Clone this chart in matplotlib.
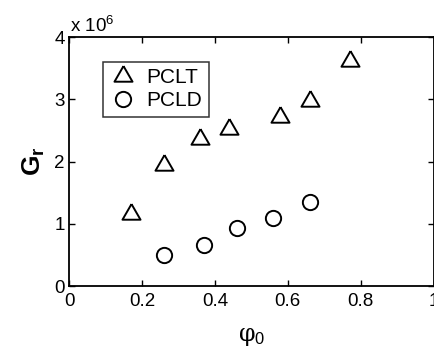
import matplotlib
matplotlib.use("Agg")
import matplotlib.pyplot as plt

plt.rcParams['font.family'] = ['Liberation Sans', 'DejaVu Sans']
plt.rcParams['mathtext.fontset'] = 'custom'
plt.rcParams['mathtext.rm'] = 'Liberation Sans'
plt.rcParams['mathtext.it'] = 'Liberation Sans'
plt.rcParams['mathtext.bf'] = 'Liberation Sans:bold'

pclt_x = [0.17, 0.26, 0.36, 0.44, 0.58, 0.66, 0.77]
pclt_y = [1.15e6, 1.95e6, 2.37e6, 2.53e6, 2.71e6, 2.97e6, 3.62e6]
pcld_x = [0.26, 0.37, 0.46, 0.56, 0.66]
pcld_y = [0.50e6, 0.66e6, 0.93e6, 1.09e6, 1.35e6]

xticks = [0, 0.2, 0.4, 0.6, 0.8, 1.0]
xticklabels = ['0', '0.2', '0.4', '0.6', '0.8', '1']
yticks = [0, 1e6, 2e6, 3e6, 4e6]
yticklabels = ['0', '1', '2', '3', '4']

tri = [(0, 0.577), (-0.5, -0.289), (0.5, -0.289), (0, 0.577)]

fig = plt.figure(figsize=(4.34, 3.54), dpi=100)
ax = fig.add_axes([0.159, 0.192, 0.84, 0.703])

ax.plot(pclt_x, pclt_y, linestyle='none', marker=tri, markersize=15,
        markerfacecolor='none', markeredgecolor='black', markeredgewidth=1.4, label='PCLT')
ax.plot(pcld_x, pcld_y, linestyle='none', marker='o', markersize=11,
        markerfacecolor='none', markeredgecolor='black', markeredgewidth=1.4, label='PCLD')

ax.set_xlim(0, 1)
ax.set_ylim(0, 4e6)
ax.set_xticks(xticks)
ax.set_xticklabels(xticklabels)
ax.set_yticks(yticks)
ax.set_yticklabels(yticklabels)
ax.tick_params(direction='in', length=4, width=1, labelsize=13.5, top=True, right=True)
ax.tick_params(axis='x', pad=5)
ax.tick_params(axis='y', pad=3)
for s in ax.spines.values():
    s.set_linewidth(1.3)

ax.text(0.003, 1.003, r'x 10$^6$', transform=ax.transAxes, fontsize=13.5, ha='left', va='bottom')

ax.set_xlabel('φ$_0$', fontsize=17, labelpad=11, family=['DejaVu Serif'])
ax.set_ylabel(r'G$_\mathbf{r}$', fontsize=19, fontweight='heavy', labelpad=5)

leg = ax.legend(loc='upper left', bbox_to_anchor=(0.093, 0.9), frameon=True, fancybox=False,
                edgecolor='black', fontsize=15, handletextpad=0.5, borderpad=0.3,
                handlelength=1.3, labelspacing=0.2, borderaxespad=0)
leg.get_frame().set_linewidth(1.1)

fig.savefig('out.png', dpi=100)
